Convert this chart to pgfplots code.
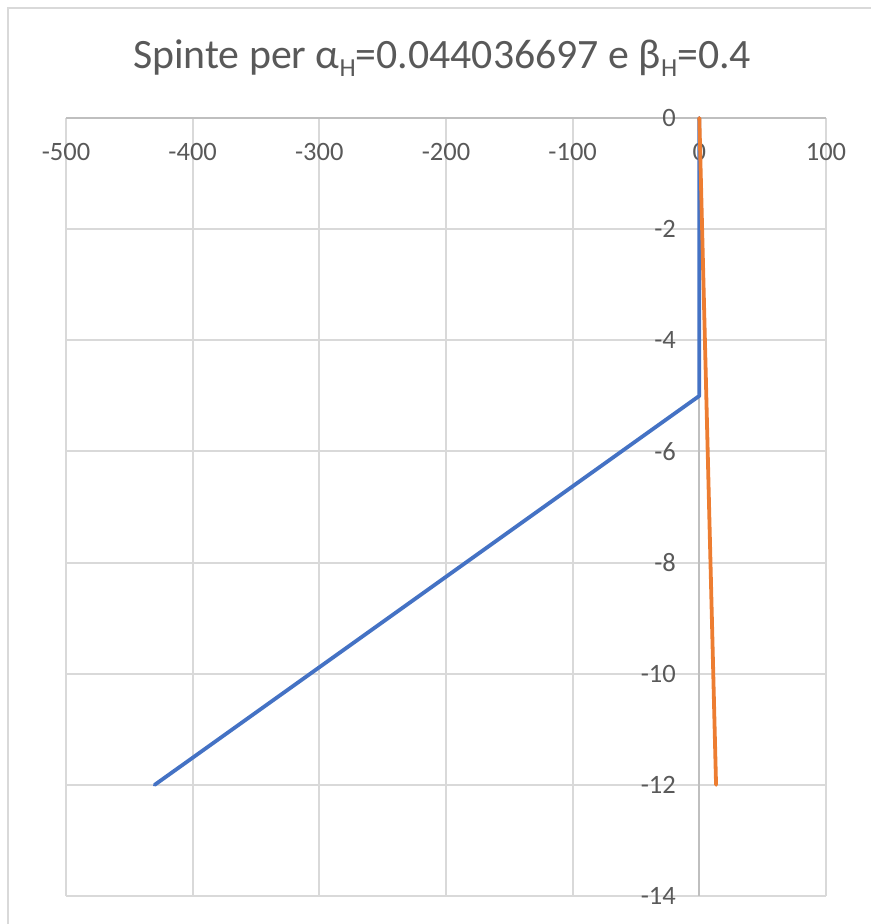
\documentclass[border=0pt]{standalone}
\usepackage{fontspec}
\setmainfont{Carlito}
\usepackage{pgfplots}
\pgfplotsset{compat=1.18}

\definecolor{seriesblue}{HTML}{4472C4}
\definecolor{seriesorange}{HTML}{ED7D31}
\definecolor{gridgray}{HTML}{D9D9D9}
\definecolor{axisgray}{HTML}{BFBFBF}
\definecolor{labelgray}{HTML}{595959}

% lowered subscript used in the title
\newcommand{\sub}[1]{\raisebox{-0.2em}{\fontsize{26}{26}\selectfont #1}}

\begin{document}
\begin{tikzpicture}[x=1pt,y=1pt]
  \useasboundingbox (0,0) rectangle (871,924);
  % chart frame
  \draw[gridgray, line width=2pt] (8,0) -- (8,916) -- (871,916);
  % title
  \node[text=labelgray, font=\fontsize{41.8}{42}\selectfont] at (442,866)
    {Spinte per α\sub{H}=0.044036697 e β\sub{H}=0.4};
  \begin{axis}[
    at={(66pt,28pt)}, anchor=south west,
    scale only axis, width=760pt, height=778pt,
    xmin=-500, xmax=100, ymin=-14, ymax=0,
    xtick={-500,-400,...,100},
    ytick={-14,-12,...,0},
    axis lines=middle,
    axis line style={axisgray, line width=2.2pt, -},
    hide obscured x ticks=false,
    hide obscured y ticks=false,
    major tick length=0pt,
    grid=major,
    major grid style={gridgray, line width=2pt},
    /pgf/number format/assume math mode=true,
    tick label style={text=labelgray, font=\fontsize{26.5}{26.5}\selectfont},
    xticklabel style={anchor=north, yshift=-22pt},
    yticklabel style={anchor=east, xshift=-20pt},
    clip=false,
  ]
    \addplot[seriesblue, line width=3.8pt, line join=round, line cap=round]
      coordinates {(0,0) (0,-5) (-430,-12)};
    \addplot[seriesorange, line width=3.8pt, line join=round, line cap=round]
      coordinates {(0,0) (5.5,-5) (13.2,-12)};
  \end{axis}
\end{tikzpicture}
\end{document}
